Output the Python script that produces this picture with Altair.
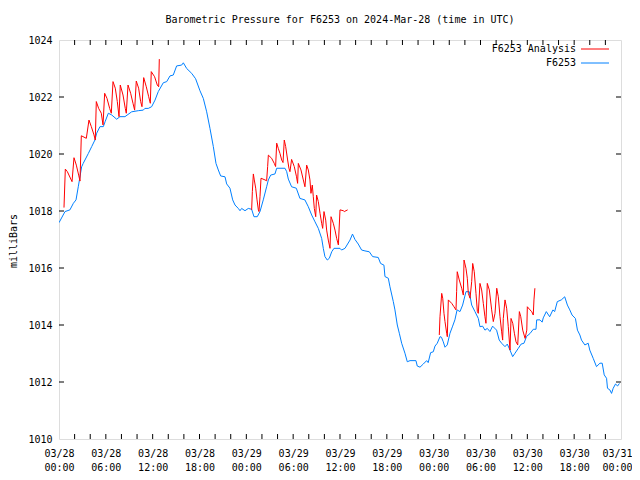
import json
import altair as alt
import pandas as pd

# ---- data (hours since 2024-03-28 00:00 UTC, pressure in mb) ----
blue_hours = [0.0, 0.77, 1.4, 1.84, 2.18, 2.47, 2.9, 3.1, 3.76, 4.19, 4.6, 4.83, 5.25, 5.68, 5.9,
              6.32, 6.75, 7.39, 7.81, 8.45, 9.31, 10.16, 10.8, 11.0, 11.44, 11.87, 12.3, 12.72,
              13.36, 13.8, 14.22, 14.64, 15.07, 15.71, 15.93, 16.36, 17.0, 17.5, 18.06, 18.49,
              18.92, 19.34, 19.77, 20.11, 20.41, 20.71, 21.27, 21.48, 21.9, 22.25, 22.55, 22.97,
              23.19, 23.4, 23.83, 24.25, 24.68, 24.98, 25.4, 25.75, 26.17, 26.6, 26.82, 27.12,
              27.67, 27.89, 28.95, 29.17, 29.38, 29.8, 30.4, 30.87, 31.5, 31.94, 32.37, 32.8,
              33.22, 33.65, 33.86, 34.07, 34.37, 34.63, 34.94, 35.23, 36.0, 36.2, 36.64, 37.28,
              37.6, 37.92, 38.34, 38.77, 39.2, 39.75, 40.18, 40.9, 41.2, 41.63, 41.76, 42.19,
              42.4, 42.83, 43.04, 43.34, 43.6, 43.9, 44.32, 44.62, 44.97, 45.73, 45.9, 46.25,
              46.67, 47.1, 47.3, 47.61, 47.95, 48.17, 48.46, 48.81, 49.0, 49.23, 49.45, 49.74,
              50.09, 50.43, 50.72, 51.0, 51.37, 51.71, 52.14, 52.56, 52.87, 53.29, 53.72, 53.93,
              54.27, 54.57, 54.87, 55.21, 55.55, 56.06, 56.4, 56.71, 57.14, 57.43, 57.78, 58.12,
              58.42, 58.84, 59.2, 59.57, 59.9, 60.34, 60.76, 61.11, 61.2, 61.62, 61.9, 62.04,
              62.43, 62.86, 63.28, 63.5, 63.84, 64.35, 64.79, 65.13, 65.44, 65.73, 66.16, 66.42,
              66.73, 66.94, 67.37, 67.8, 68.0, 68.44, 68.86, 69.3, 69.59, 69.85, 70.15, 70.27,
              70.58, 70.79, 71.0, 71.3, 71.56, 71.8]
blue_mb = [1017.59, 1017.98, 1018.04, 1018.27, 1018.39, 1018.85, 1019.55, 1019.67, 1020.02, 1020.26,
           1020.49, 1020.73, 1020.96, 1020.96, 1021.13, 1021.43, 1021.37, 1021.22, 1021.31, 1021.31,
           1021.48, 1021.52, 1021.54, 1021.6, 1021.6, 1021.66, 1021.89, 1022.19, 1022.5, 1022.54,
           1022.74, 1022.77, 1023.09, 1023.12, 1023.2, 1023.0, 1022.83, 1022.64, 1022.22, 1021.95,
           1021.48, 1020.9, 1020.26, 1019.67, 1019.44, 1019.23, 1019.2, 1018.95, 1018.8, 1018.39,
           1018.21, 1018.09, 1018.01, 1018.09, 1018.01, 1018.09, 1018.06, 1017.8, 1017.8, 1017.98,
           1018.39, 1018.85, 1019.09, 1019.26, 1019.3, 1019.5, 1019.5, 1019.38, 1019.12, 1018.85,
           1018.8, 1018.44, 1018.39, 1018.15, 1017.86, 1017.62, 1017.39, 1017.04, 1016.69, 1016.4,
           1016.28, 1016.34, 1016.57, 1016.69, 1016.69, 1016.63, 1016.69, 1016.98, 1017.19, 1017.0,
           1016.84, 1016.63, 1016.6, 1016.57, 1016.4, 1016.37, 1016.16, 1016.1, 1015.7, 1015.64,
           1015.34, 1014.82, 1014.53, 1014.0, 1013.71, 1013.36, 1013.01, 1012.71, 1012.75, 1012.75,
           1012.56, 1012.52, 1012.63, 1012.75, 1012.68, 1013.03, 1013.06, 1013.26, 1013.36, 1013.59,
           1013.57, 1013.41, 1013.22, 1013.3, 1013.71, 1013.96, 1014.18, 1014.53, 1014.47, 1014.7,
           1015.17, 1015.17, 1014.7, 1014.47, 1014.23, 1013.94, 1013.96, 1013.82, 1013.88, 1013.77,
           1013.96, 1013.82, 1013.47, 1013.36, 1013.24, 1013.33, 1013.12, 1012.89, 1013.01, 1013.18,
           1013.33, 1013.36, 1013.6, 1013.7, 1013.85, 1013.85, 1014.18, 1014.18, 1014.1, 1014.25,
           1014.47, 1014.29, 1014.53, 1014.47, 1014.82, 1014.88, 1014.99, 1014.7, 1014.53, 1014.35,
           1014.23, 1013.82, 1013.65, 1013.47, 1013.3, 1013.36, 1013.12, 1012.83, 1012.54, 1012.66,
           1012.66, 1012.25, 1012.13, 1011.78, 1011.72, 1011.6, 1011.78, 1011.93, 1011.86, 1011.95]

red1_hours = [0.64, 0.81, 1.07, 1.67, 1.79, 1.92, 2.22, 2.52, 2.69, 2.86, 3.5, 3.84, 4.14, 4.48,
              4.65, 4.78, 5.08, 5.42, 5.64, 5.85, 6.15, 6.49, 6.7, 6.92, 7.21, 7.47, 7.69, 7.85,
              8.2, 8.49, 8.62, 8.84, 9.18, 9.48, 9.69, 9.9, 10.2, 10.46, 10.63, 10.85, 11.18,
              11.49, 11.7, 11.82, 12.25, 12.59, 12.77, 12.85]
red1_mb = [1018.12, 1019.47, 1019.38, 1019.03, 1019.44, 1019.87, 1019.61, 1019.26, 1019.05, 1020.64,
           1020.55, 1021.19, 1020.96, 1020.67, 1020.49, 1021.84, 1021.6, 1021.43, 1021.02, 1022.13,
           1021.95, 1021.6, 1021.43, 1022.54, 1022.31, 1021.84, 1021.31, 1022.42, 1022.07, 1021.6,
           1021.43, 1022.42, 1022.13, 1021.78, 1021.54, 1022.56, 1022.31, 1021.84, 1021.66, 1022.68,
           1022.36, 1022.01, 1021.78, 1022.89, 1022.71, 1022.42, 1022.36, 1023.33]

red2_hours = [24.68, 24.77, 24.9, 25.02, 25.2, 25.37, 25.54, 25.62, 25.75, 25.88, 26.39, 26.6,
              26.73, 26.82, 27.24, 27.58, 27.75, 27.89, 28.09, 28.31, 28.53, 28.7, 28.86, 29.04,
              29.29, 29.46, 29.59, 29.8, 30.14, 30.43, 30.57, 30.66, 31.0, 31.3, 31.51, 31.73,
              31.94, 32.15, 32.28, 32.45, 32.58, 32.71, 32.89, 33.0, 33.22, 33.44, 33.65, 33.78,
              33.95, 34.17, 34.29, 34.5, 34.72, 34.85, 35.14, 35.36, 35.57, 35.79, 36.0, 36.42,
              36.55, 36.98]
red2_mb = [1018.04, 1018.68, 1019.3, 1019.09, 1018.8, 1018.39, 1018.04, 1017.98, 1018.5, 1019.15,
           1019.09, 1019.06, 1019.56, 1019.96, 1019.85, 1019.67, 1019.56, 1020.38, 1020.2, 1020.02,
           1019.79, 1019.7, 1020.49, 1020.26, 1019.79, 1019.5, 1019.38, 1019.81, 1019.56, 1019.2,
           1018.97, 1019.67, 1019.44, 1019.09, 1018.85, 1019.61, 1019.44, 1019.09, 1018.62, 1018.91,
           1018.5, 1018.09, 1017.8, 1018.56, 1018.33, 1017.92, 1017.57, 1017.39, 1017.98, 1017.68,
           1017.33, 1016.98, 1016.69, 1017.8, 1017.57, 1017.33, 1017.04, 1016.81, 1018.04, 1018.01,
           1017.98, 1018.04]

red3_hours = [48.72, 48.81, 49.03, 49.16, 49.32, 49.45, 49.67, 49.75, 49.88, 50.31, 50.6, 50.86,
              50.94, 51.02, 51.28, 51.59, 51.8, 51.89, 52.14, 52.31, 52.44, 52.66, 52.87, 53.0,
              53.2, 53.42, 53.6, 53.72, 53.93, 54.15, 54.36, 54.57, 54.7, 54.87, 55.13, 55.43,
              55.64, 55.86, 56.08, 56.28, 56.5, 56.71, 56.84, 56.92, 57.14, 57.35, 57.56, 57.78,
              57.91, 58.13, 58.34, 58.55, 58.77, 58.98, 59.16, 59.41, 59.71, 59.93, 60.0, 60.34,
              60.56, 60.76, 60.85, 60.97]
red3_mb = [1013.65, 1014.29, 1015.11, 1014.94, 1014.41, 1014.12, 1013.71, 1013.59, 1014.88, 1014.76,
           1014.64, 1014.53, 1015.17, 1015.87, 1015.58, 1015.29, 1015.05, 1016.28, 1015.99, 1015.64,
           1015.11, 1014.94, 1015.52, 1016.16, 1015.87, 1015.11, 1014.47, 1014.41, 1015.46, 1015.23,
           1014.76, 1014.29, 1014.06, 1015.46, 1015.23, 1014.53, 1014.12, 1014.41, 1015.29, 1014.99,
           1014.29, 1013.76, 1013.47, 1014.23, 1014.88, 1014.59, 1013.94, 1013.12, 1014.23, 1014.06,
           1013.71, 1013.41, 1013.3, 1014.47, 1014.29, 1013.82, 1013.53, 1013.82, 1014.64, 1014.53,
           1014.47, 1014.35, 1014.88, 1015.29]

x_tick_values = [0, 6, 12, 18, 24, 30, 36, 42, 48, 54, 60, 66, 72]
x_label_dates = ["03/28", "03/28", "03/28", "03/28", "03/29", "03/29", "03/29", "03/29",
                 "03/30", "03/30", "03/30", "03/30", "03/31"]
x_label_times = ["00:00", "06:00", "12:00", "18:00", "00:00", "06:00", "12:00", "18:00",
                 "00:00", "06:00", "12:00", "18:00", "00:00"]
x_minor_ticks = list(range(2, 72, 2))
y_tick_values = [1010, 1012, 1014, 1016, 1018, 1020, 1022, 1024]

title_text = "Barometric Pressure for F6253 on 2024-Mar-28 (time in UTC)"
y_title = "milliBars"
legend_names = ["F6253 Analysis", "F6253"]
BLUE = "#0080ff"
RED = "#ff0000"

W, H = 562, 399
FONT = "DejaVu Sans Mono"

blue_df = pd.DataFrame({"h": blue_hours, "p": blue_mb})
red_df = pd.concat([
    pd.DataFrame({"h": red1_hours, "p": red1_mb, "seg": 1}),
    pd.DataFrame({"h": red2_hours, "p": red2_mb, "seg": 2}),
    pd.DataFrame({"h": red3_hours, "p": red3_mb, "seg": 3}),
], ignore_index=True)

xscale = alt.Scale(domain=[0, 72], nice=False, zero=False)
yscale = alt.Scale(domain=[1010, 1024], nice=False, zero=False)

label_expr = ("[" + json.dumps(x_label_dates) + "[round(datum.value/6)], "
              + json.dumps(x_label_times) + "[round(datum.value/6)]]")

xaxis = alt.Axis(values=x_tick_values, labelExpr=label_expr, ticks=False, domain=False,
                 grid=False, title=None, labelPadding=9, labelLineHeight=14,
                 labelFontSize=10, labelFont=FONT, labelColor="black", labelAngle=0,
                 labelOverlap=False, labelFlush=False,
                 labelOffset={"condition": {"test": "datum.value == 72", "value": -4},
                              "value": 0})
yaxis = alt.Axis(values=y_tick_values, format="d", ticks=False, domain=False, grid=False,
                 title=None, labelPadding=7, labelFontSize=10, labelFont=FONT,
                 labelColor="black", labelOverlap=False, labelFlush=False)

blue_line = alt.Chart(blue_df).mark_line(color=BLUE, strokeWidth=1, clip=True).encode(
    x=alt.X("h:Q", scale=xscale, axis=xaxis),
    y=alt.Y("p:Q", scale=yscale, axis=yaxis),
)
red_line = alt.Chart(red_df).mark_line(color=RED, strokeWidth=1, clip=True).encode(
    x=alt.X("h:Q", scale=xscale),
    y=alt.Y("p:Q", scale=yscale),
    detail="seg:N",
)

xt_df = pd.DataFrame({"h": x_minor_ticks})
yt_df = pd.DataFrame({"p": y_tick_values[1:-1]})
TL = 5
xt_bottom = alt.Chart(xt_df).mark_rule(color="black", strokeWidth=1).encode(
    x=alt.X("h:Q", scale=xscale), y=alt.value(H), y2=alt.value(H - TL))
xt_top = alt.Chart(xt_df).mark_rule(color="black", strokeWidth=1).encode(
    x=alt.X("h:Q", scale=xscale), y=alt.value(0), y2=alt.value(TL))
yt_left = alt.Chart(yt_df).mark_rule(color="black", strokeWidth=1).encode(
    y=alt.Y("p:Q", scale=yscale), x=alt.value(0), x2=alt.value(TL))
yt_right = alt.Chart(yt_df).mark_rule(color="black", strokeWidth=1).encode(
    y=alt.Y("p:Q", scale=yscale), x=alt.value(W), x2=alt.value(W - TL))

title_mark = alt.Chart(pd.DataFrame({"t": [title_text]})).mark_text(
    font=FONT, fontSize=10, color="black", align="center", baseline="middle").encode(
    text="t:N", x=alt.value(W / 2), y=alt.value(-20))
ytitle_mark = alt.Chart(pd.DataFrame({"t": [y_title]})).mark_text(
    font=FONT, fontSize=10, color="black", align="center", baseline="middle", angle=270).encode(
    text="t:N", x=alt.value(-45), y=alt.value(201))

leg_df = pd.DataFrame({"name": legend_names, "ypix": [9, 23]})
leg_text = alt.Chart(leg_df).mark_text(
    font=FONT, fontSize=10, color="black", align="right", baseline="middle").encode(
    text="name:N", x=alt.value(517), y=alt.Y("ypix:Q", scale=None))
leg_red = alt.Chart(leg_df.iloc[[0]]).mark_rule(strokeWidth=1, color=RED).encode(
    x=alt.value(522), x2=alt.value(550), y=alt.Y("ypix:Q", scale=None))
leg_blue = alt.Chart(leg_df.iloc[[1]]).mark_rule(strokeWidth=1, color=BLUE).encode(
    x=alt.value(522), x2=alt.value(550), y=alt.Y("ypix:Q", scale=None))

chart = alt.layer(
    blue_line, red_line, xt_bottom, xt_top, yt_left, yt_right,
    title_mark, ytitle_mark, leg_red, leg_blue, leg_text
).properties(
    width=W, height=H,
    autosize=alt.AutoSizeParams(type="none"),
    padding={"left": 51, "top": 32, "right": 11, "bottom": 33},
).configure_view(stroke="black", strokeWidth=1).configure(background="white")

chart.save("out.html", embed_options={"renderer": "svg", "actions": False})
